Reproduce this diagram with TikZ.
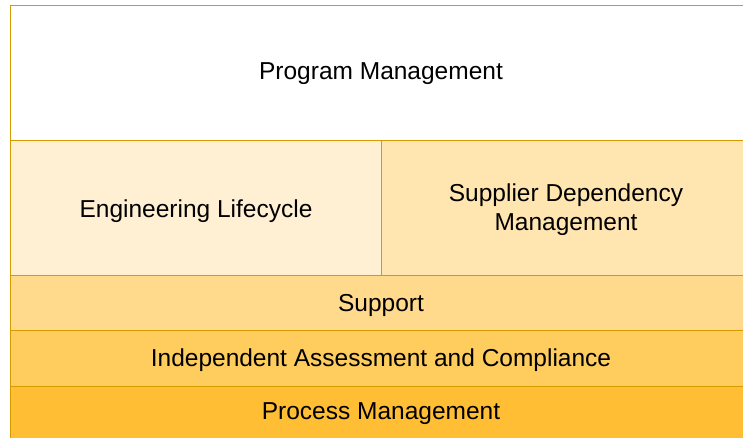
\documentclass[tikz,border=0pt]{standalone}
\usepackage{fontspec}
\setmainfont{Liberation Sans}
\usepackage{xcolor}
\usetikzlibrary{positioning}

\definecolor{edgeorange}{HTML}{D79B00}
\definecolor{engfill}{HTML}{FFF0D4}
\definecolor{supfill}{HTML}{FFE5B0}
\definecolor{supportfill}{HTML}{FFDA8C}
\definecolor{assessfill}{HTML}{FFCD5E}
\definecolor{processfill}{HTML}{FFBE33}

\tikzset{
    layer/.style={draw=edgeorange, rectangle, line width=1.2pt, inner sep=0pt, anchor=north west},
    caption/.style={align=center, font=\fontsize{24.5}{29}\selectfont}
}

\begin{document}
\begin{tikzpicture}[x=1pt, y=-1pt]
    \useasboundingbox (0,0) rectangle (743,438);
    \clip (0,0) rectangle (743,438);

    % Program Management (top)
    \node[layer, fill=white, minimum width=780pt, minimum height=135pt] (prog) at (10,5) {};
    \node[caption] (progtxt) at (381,74) {Program Management};

    % Engineering / Supplier row
    \node[layer, fill=engfill, minimum width=371pt, minimum height=135pt] (eng) at (10,140) {};
    \node[caption] (engtxt) at (196,211) {Engineering Lifecycle};
    \node[layer, fill=supfill, minimum width=400pt, minimum height=135pt] (sup) at (381,140) {};
    \node[caption] (suptxt) at (566,210) {Supplier Dependency\\Management};

    % Support
    \node[layer, fill=supportfill, minimum width=780pt, minimum height=55pt] (support) at (10,275) {};
    \node[caption] (supporttxt) at (381,305) {Support};

    % Independent Assessment
    \node[layer, fill=assessfill, minimum width=780pt, minimum height=56pt] (assess) at (10,330) {};
    \node[caption] (assesstxt) at (381,360) {Independent Assessment and Compliance};

    % Process Management (bottom)
    \node[layer, fill=processfill, minimum width=780pt, minimum height=80pt] (proc) at (10,386) {};
    \node[caption] (proctxt) at (381,414) {Process Management};
\end{tikzpicture}
\end{document}
